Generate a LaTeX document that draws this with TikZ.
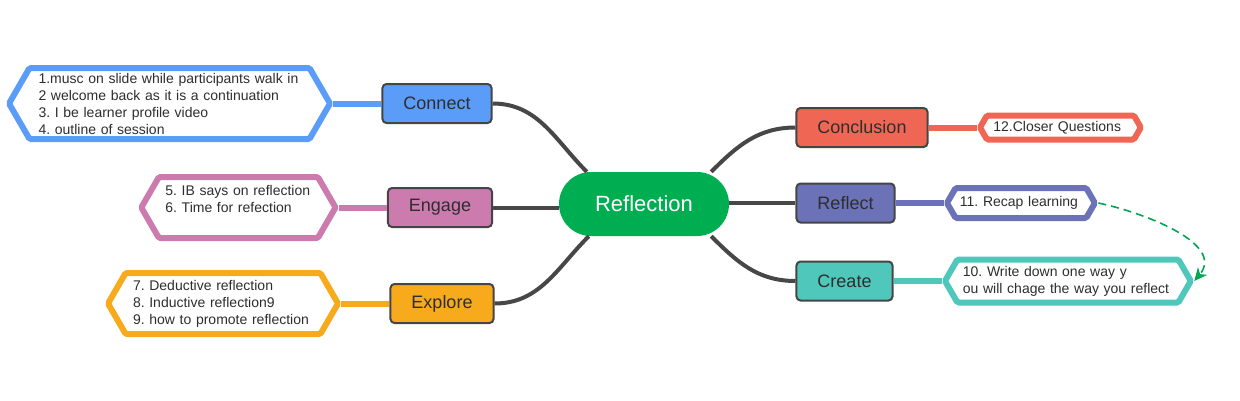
\documentclass[tikz,border=0pt]{standalone}
\usepackage{fontspec}
\setmainfont{Liberation Sans}
\usetikzlibrary{arrows.meta,positioning,shapes.symbols}
\definecolor{Edge}{HTML}{454545}
\definecolor{Ink}{HTML}{2E2E2E}
\definecolor{Trunk}{HTML}{474747}
\definecolor{Root}{HTML}{00AE52}
\definecolor{Hint}{HTML}{00A651}
\definecolor{Sky}{HTML}{5B9CF9}
\definecolor{Orchid}{HTML}{CC7BAF}
\definecolor{Saffron}{HTML}{F6AA1C}
\definecolor{Coral}{HTML}{EF6654}
\definecolor{Indigo}{HTML}{6B72B8}
\definecolor{Teal}{HTML}{4FC8BB}
\frenchspacing
\hyphenpenalty=10000
\tikzset{
  branch/.style={draw=Edge,line width=2pt,rounded corners=4pt,minimum height=39pt,inner xsep=21pt,text=Ink,font=\fontsize{18}{21.6}\selectfont},
  note/.style={signal,signal to=west and east,signal pointer angle=120,fill=white,line width=6pt,rounded corners=1.5pt,minimum height=#1,inner ysep=0pt,align=left,text=Ink,font=\fontsize{14}{17}\selectfont},
  trunk/.style={draw=Trunk,line width=4pt},
  twig/.style={line width=6pt},
  hint/.style={-{Stealth[length=13pt,width=12pt,inset=4pt]},draw=Hint,line width=1.6pt,dash pattern=on 8pt off 5pt}
}
\begin{document}
\begin{tikzpicture}[x=1pt,y=1pt,node distance=48pt]
  \useasboundingbox (0,0) rectangle (1240,-400);
  \node[fill=Root,rounded corners=32pt,minimum width=170pt,minimum height=64pt,text=white,font=\fontsize{22}{26}\selectfont] (root) at (644,-204) {Reflection};
  % left side
  \node[branch,fill=Sky] (connect) at (437,-103.5) {Connect};
  \node[branch,fill=Orchid] (engage) at (440,-207.5) {Engage};
  \node[branch,fill=Saffron] (explore) at (442,-303.5) {Explore};
  \node[note=71pt,draw=Sky,text width=262pt,inner xsep=9pt,left=of connect] (connectnote) {1.musc on slide while participants walk in\\2 welcome back as it is a continuation\\3. I be learner profile video\\4. outline of session};
  \node[note=61pt,draw=Orchid,text width=146pt,inner xsep=6.5pt,left=of engage] (engagenote) {5. IB says on reflection\\6. Time for refection\\\mbox{}};
  \node[note=61pt,draw=Saffron,text width=180pt,inner xsep=7.4pt,left=of explore] (explorenote) {7. Deductive reflection\\8. Inductive reflection9\\9. how to promote reflection};
  % right side
  \node[branch,fill=Coral] (conclusion) at (862,-127.5) {Conclusion};
  \node[branch,fill=Indigo] (reflect) at (845.5,-203) {Reflect};
  \node[branch,fill=Teal] (create) at (844.5,-281) {Create};
  \node[note=24pt,draw=Coral,text width=134pt,inner xsep=6.5pt,right=of conclusion] (conclusionnote) {12.Closer Questions};
  \node[note=30pt,draw=Indigo,text width=122pt,inner xsep=4.3pt,right=of reflect] (reflectnote) {11. Recap learning};
  \node[note=43pt,draw=Teal,text width=210pt,inner xsep=5.5pt,right=of create] (createnote) {10. Write down one way y\\ou will chage the way you reflect};
  % trunks
  \draw[trunk] ([xshift=28pt]root.north west) to[out=135,in=0] (connect.east);
  \draw[trunk] (engage.east) -- (engage.east -| root.west);
  \draw[trunk] ([xshift=30pt]root.south west) to[out=-135,in=0] (explore.east);
  \draw[trunk] ([xshift=-18pt]root.north east) to[out=45,in=180] (conclusion.west);
  \draw[trunk] (root.east |- reflect.west) -- (reflect.west);
  \draw[trunk] ([xshift=-18pt]root.south east) to[out=-45,in=180] (create.west);
  % twigs
  \draw[twig,Sky] (connect.west) -- (connectnote.east);
  \draw[twig,Orchid] (engage.west) -- (engagenote.east);
  \draw[twig,Saffron] (explore.west) -- (explorenote.east);
  \draw[twig,Coral] (conclusion.east) -- (conclusionnote.west);
  \draw[twig,Indigo] (reflect.east) -- (reflectnote.west);
  \draw[twig,Teal] (create.east) -- (createnote.west);
  \draw[hint] (reflectnote.east) to[out=-12,in=50] (createnote.east);
\end{tikzpicture}
\end{document}
